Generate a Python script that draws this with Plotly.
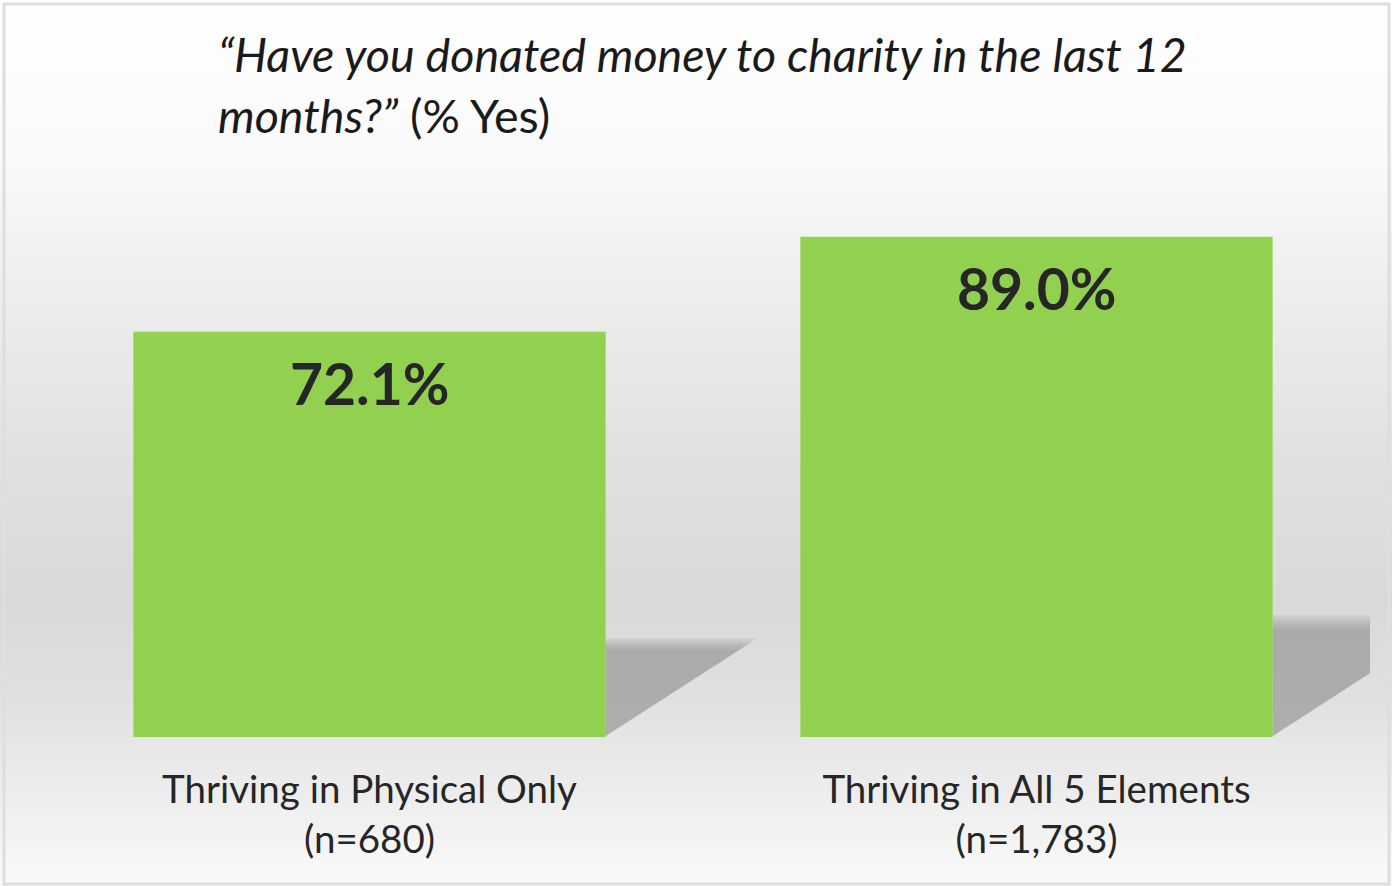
import plotly.graph_objects as go

categories = ["Thriving in Physical Only<br>(n=680)", "Thriving in All 5 Elements<br>(n=1,783)"]
values = [72.1, 89.0]
value_labels = ["72.1%", "89.0%"]
title_italic = "“Have you donated money to charity in the last 12<br>months?”"
title_plain = " (% Yes)"

W, H = 1392, 886
ML, MR, MT, MB = 36, 22, 175, 149
PW, PH = W - ML - MR, H - MT - MB

def px_to_paper_x(px):
    return (px - ML) / PW

def px_to_paper_y(py):
    return (H - MB - py) / PH

# background gradient stops (pixel y, grey level)
stops = [(0, 255), (150, 250), (300, 237), (450, 225), (600, 217), (700, 224), (800, 238), (886, 250)]

def grey_at(py):
    for (y0, g0), (y1, g1) in zip(stops[:-1], stops[1:]):
        if y0 <= py <= y1:
            t = (py - y0) / (y1 - y0)
            return g0 + (g1 - g0) * t
    return stops[-1][1]

shapes = []
step = 6
for py in range(0, H, step):
    g = int(round(grey_at(py + step / 2)))
    shapes.append(dict(type="rect", xref="paper", yref="paper",
                       x0=px_to_paper_x(0), x1=px_to_paper_x(W),
                       y0=px_to_paper_y(py + step + 1), y1=px_to_paper_y(py),
                       fillcolor=f"rgb({g},{g},{g})", line=dict(width=0), layer="below"))

# frame
shapes.append(dict(type="rect", xref="paper", yref="paper",
                   x0=px_to_paper_x(4), x1=px_to_paper_x(1389),
                   y0=px_to_paper_y(884), y1=px_to_paper_y(4),
                   line=dict(color="#dedede", width=3), fillcolor="rgba(0,0,0,0)", layer="above"))

# soft shadows behind bars (stacked translucent triangles for a blurred edge)
half = 0.354
for i, v in enumerate(values):
    hgt = 0.232 * v
    dx = 0.0030 * v
    for scale in [1.05, 1.025, 1.0, 0.975, 0.95, 0.925]:
        h2 = hgt * scale
        d2 = dx * scale
        shapes.append(dict(type="path", xref="x", yref="y",
                           path=f"M {i+half},{0.2} L {i+half},{h2} L {i+half+d2},{h2} Z",
                           fillcolor="rgba(150,150,150,0.17)", line=dict(width=0), layer="below"))

fig = go.Figure()
fig.add_trace(go.Bar(x=[0, 1], y=values, marker=dict(color="#92D050", line=dict(width=0)),
                     width=0.708, hoverinfo="skip"))

annotations = []
for i, (v, lab) in enumerate(zip(values, value_labels)):
    annotations.append(dict(x=i, y=v, xref="x", yref="y", text=f"<b>{lab}</b>",
                            showarrow=False, yanchor="top", yshift=-15,
                            font=dict(family="Lato", size=57, color="#262626")))

annotations.append(dict(x=px_to_paper_x(216), y=px_to_paper_y(24), xref="paper", yref="paper",
                        xanchor="left", yanchor="top", align="left",
                        text=f"<i>{title_italic}</i>{title_plain}", showarrow=False,
                        font=dict(family="Lato", size=46.6, color="#1a1a1a")))

fig.update_layout(
    width=W, height=H,
    margin=dict(l=ML, r=MR, t=MT, b=MB, pad=0),
    paper_bgcolor="white", plot_bgcolor="rgba(0,0,0,0)",
    shapes=shapes, annotations=annotations,
    showlegend=False,
    xaxis=dict(range=[-0.5, 1.5], tickmode="array", tickvals=[0, 1], ticktext=categories,
               showgrid=False, zeroline=False, showline=False, ticks="",
               tickfont=dict(family="Lato", size=38.5, color="#262626"), ticklabelstandoff=26),
    yaxis=dict(range=[0, 100], visible=False, showgrid=False, zeroline=False),
)

fig.write_html("out.html")
